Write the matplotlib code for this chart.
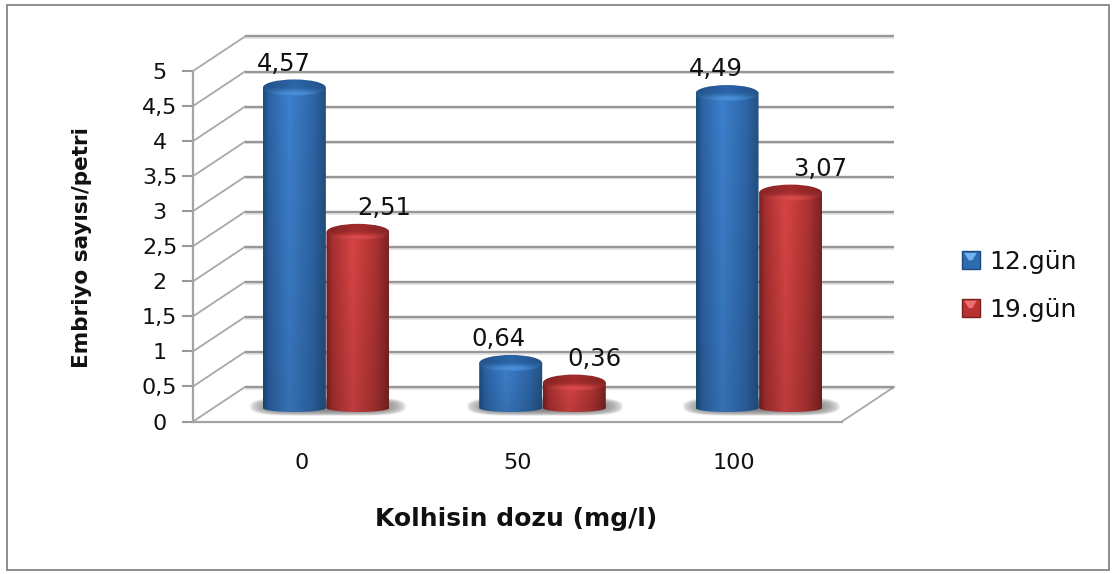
import numpy as np
import matplotlib
matplotlib.use("Agg")
import matplotlib.pyplot as plt
from matplotlib.patches import Ellipse, Rectangle, Polygon
from matplotlib.legend_handler import HandlerBase

# ---------- data ----------
categories = ["0", "50", "100"]
series_names = ["12.gün", "19.gün"]
day12 = [4.57, 0.64, 4.49]
day19 = [2.51, 0.36, 3.07]
value_labels12 = ["4,57", "0,64", "4,49"]
value_labels19 = ["2,51", "0,36", "3,07"]
y_ticks = [0, 0.5, 1, 1.5, 2, 2.5, 3, 3.5, 4, 4.5, 5]
y_tick_labels = ["0", "0,5", "1", "1,5", "2", "2,5", "3", "3,5", "4", "4,5", "5"]

W, H = 1113, 574
fig = plt.figure(figsize=(W / 100, H / 100), dpi=100, facecolor="white")
L, R, T, B = 193, 842, 71, 421.5
ax = fig.add_axes([L / W, 1 - B / H, (R - L) / W, (B - T) / H])
ax.set_facecolor("none")

sx = (R - L) / 3.0   # px per x unit
sy = (B - T) / 5.0   # px per y unit
DX, DY = 52 / sx, 34.5 / sy      # wall depth
BX, BY = 25 / sx, 13.5 / sy      # bars sit in mid depth
BW = 63 / sx
RY = 8.2 / sy                    # top ellipse half-height
RB = 4.0 / sy                    # bottom curve height
GRAY = "#a3a3a3"

# ---------- walls ----------
for v in y_ticks:
    ax.plot([DX, 3 + DX], [v + DY - 1.8 / sy] * 2, color="#e2e2e2", lw=1.2, clip_on=False, zorder=1,
            solid_capstyle="butt")
    ax.plot([DX, 3 + DX], [v + DY] * 2, color="#979797", lw=1.7, clip_on=False, zorder=1.2,
            solid_capstyle="butt")
    ax.plot([0, DX], [v, v + DY], color="#a8a8a8", lw=1.3, clip_on=False, zorder=1.1)
ax.plot([3, 3 + DX], [0, DY], color="#a8a8a8", lw=1.3, clip_on=False, zorder=1.1)


def shade(stops_rgb, ny=60, nx=80, dark=0.88):
    pos = [0, 0.1, 0.42, 0.8, 1]
    xs = np.linspace(0, 1, nx)
    row = np.stack([np.interp(xs, pos, [c[i] for c in stops_rgb]) for i in range(3)], axis=-1)
    fade = np.linspace(1, dark, ny)[:, None, None]
    return np.clip(row[None, :, :] * fade, 0, 1)


def hexrgb(h):
    return matplotlib.colors.to_rgb(h)


BLUE = [hexrgb(c) for c in ("#1f4c7e", "#2b64a6", "#3d80cc", "#2e66a8", "#23507f")]
RED = [hexrgb(c) for c in ("#7a2020", "#a83030", "#d84444", "#ab3232", "#7c2222")]
BLUE_TOP, BLUE_HI = hexrgb("#2b64a8"), hexrgb("#4a90da")
RED_TOP, RED_HI = hexrgb("#a32c2c"), hexrgb("#dc4b4b")


def cylinder(cx, v, stops, top, hi, zo):
    base = BY
    xl, xr = cx - BW / 2, cx + BW / 2
    ytop = base + v
    t = np.linspace(0, np.pi, 40)
    xs_bot = cx - np.cos(t) * BW / 2
    ys_bot = base - np.sin(t) * RB
    verts = [(xl, ytop)] + list(zip(xs_bot, ys_bot)) + [(xr, ytop), (xl, ytop)]
    clip = Polygon(verts, closed=True, transform=ax.transData, fc="none", ec="none")
    ax.add_patch(clip)
    im = ax.imshow(shade(stops), extent=(xl, xr, base - RB, ytop), aspect="auto",
                   interpolation="bilinear", zorder=zo, origin="upper")
    im.set_clip_path(clip)
    e = Ellipse((cx, ytop), BW, 2 * RY, transform=ax.transData, fc="none", ec="none")
    ax.add_patch(e)
    yy, xx = np.mgrid[-1:1:40j, -1:1:60j]   # yy=-1 at image top
    w = np.exp(-(((yy - 0.7) / 0.45) ** 2) - (xx / 0.8) ** 2)[..., None]
    edge = np.clip(1 - 0.18 * np.abs(xx), 0, 1)[..., None]
    img = (np.array(top) * edge) * (1 - w) + np.array(hi) * w
    im2 = ax.imshow(img, extent=(xl, xr, ytop - RY, ytop + RY), aspect="auto",
                    interpolation="bilinear", zorder=zo + 0.1, origin="upper")
    im2.set_clip_path(e)


def shadow(cx, halfw, zo=1.5):
    yy, xx = np.mgrid[-1:1:40j, -1:1:120j]
    a = np.clip(1 - (np.abs(xx) ** 5 + np.abs(yy) ** 2.5), 0, 1) ** 0.7 * 0.9
    rgba = np.zeros(a.shape + (4,))
    rgba[..., :3] = 0.45
    rgba[..., 3] = a
    ax.imshow(rgba, extent=(cx - halfw, cx + halfw, BY - 8 / sy, BY + 11 / sy), aspect="auto",
              interpolation="bilinear", zorder=zo)


offs = [-BW / 2 - 0.3 / sx, BW / 2 + 0.3 / sx]
lab_dx = [[-10, -12, -11], [26, 20, 30]]
for i in range(3):
    c = i + 0.5 + BX
    shadow(c + 2 / sx, 79 / sx)
    cylinder(c + offs[0], day12[i], BLUE, BLUE_TOP, BLUE_HI, 3)
    cylinder(c + offs[1], day19[i], RED, RED_TOP, RED_HI, 4)
    for val, txt, off, dx in ((day12[i], value_labels12[i], offs[0], lab_dx[0][i]),
                              (day19[i], value_labels19[i], offs[1], lab_dx[1][i])):
        ax.annotate(txt, xy=(c + off, BY + val), xycoords="data",
                    xytext=(dx, 24), textcoords="offset pixels", ha="center", va="center",
                    fontsize=17.5, color="#111111", zorder=8, annotation_clip=False)

# ---------- axes ----------
ax.set_xlim(0, 3)
ax.set_ylim(0, 5)
for s in ("top", "right"):
    ax.spines[s].set_visible(False)
for s in ("left", "bottom"):
    ax.spines[s].set_color(GRAY)
    ax.spines[s].set_linewidth(1.6)
    ax.spines[s].set_zorder(2)
ax.set_yticks(y_ticks, y_tick_labels)
ax.set_xticks([0.5, 1.5, 2.5], categories)
ax.tick_params(axis="y", length=8, width=1.5, color="#999999", pad=16, labelsize=16, labelcolor="#111111")
ax.tick_params(axis="x", length=0, pad=23, labelsize=16, labelcolor="#111111")
for lb in ax.get_yticklabels():
    lb.set_ha("center")
ax.set_xlabel("Kolhisin dozu (mg/l)", fontsize=18, fontweight="bold", color="#111111")
ax.xaxis.set_label_coords((516 - L) / (R - L), (B - 507) / (B - T), transform=ax.transAxes)
ax.set_ylabel("Embriyo sayısı/petri", fontsize=15.5, fontweight="bold", color="#111111")
ax.yaxis.set_label_coords((92 - L) / (R - L), (B - 248) / (B - T), transform=ax.transAxes)


# ---------- legend ----------
class Handle(HandlerBase):
    def __init__(self, dark, mid, hi):
        super().__init__()
        self.c = (dark, mid, hi)

    def create_artists(self, legend, orig, xd, yd, w, h, fs, trans):
        dark, mid, hi = self.c
        r = Rectangle((-xd, -yd), w, h, fc=mid, ec=dark, lw=1.0, transform=trans)
        tri = Polygon([(-xd + 0.15 * w, -yd + h * 0.92), (-xd + 0.85 * w, -yd + h * 0.92),
                       (-xd + 0.6 * w, -yd + h * 0.5), (-xd + 0.4 * w, -yd + h * 0.5)],
                      fc=hi, ec="none", transform=trans)
        return [r, tri]


h1 = Rectangle((0, 0), 1, 1)
h2 = Rectangle((0, 0), 1, 1)
leg = ax.legend([h1, h2], series_names, loc="center left",
                bbox_to_anchor=(939 / W, 1 - 286 / H), bbox_transform=fig.transFigure,
                frameon=False, fontsize=18, handlelength=0.72, handleheight=0.72,
                handletextpad=0.4, labelspacing=0.95, labelcolor="#111111",
                handler_map={h1: Handle("#1e4a7a", "#2f6bb0", "#6fb4f0"),
                             h2: Handle("#7a1e1e", "#b83232", "#ee7070")})

# ---------- chart frame ----------
fig.add_artist(Rectangle((7 / W, 1 - 570 / H), (1108.5 - 7) / W, (570 - 5) / H,
                         transform=fig.transFigure, fc="none", ec="#868686", lw=1.3))

fig.savefig("out.png", dpi=100, facecolor="white")
